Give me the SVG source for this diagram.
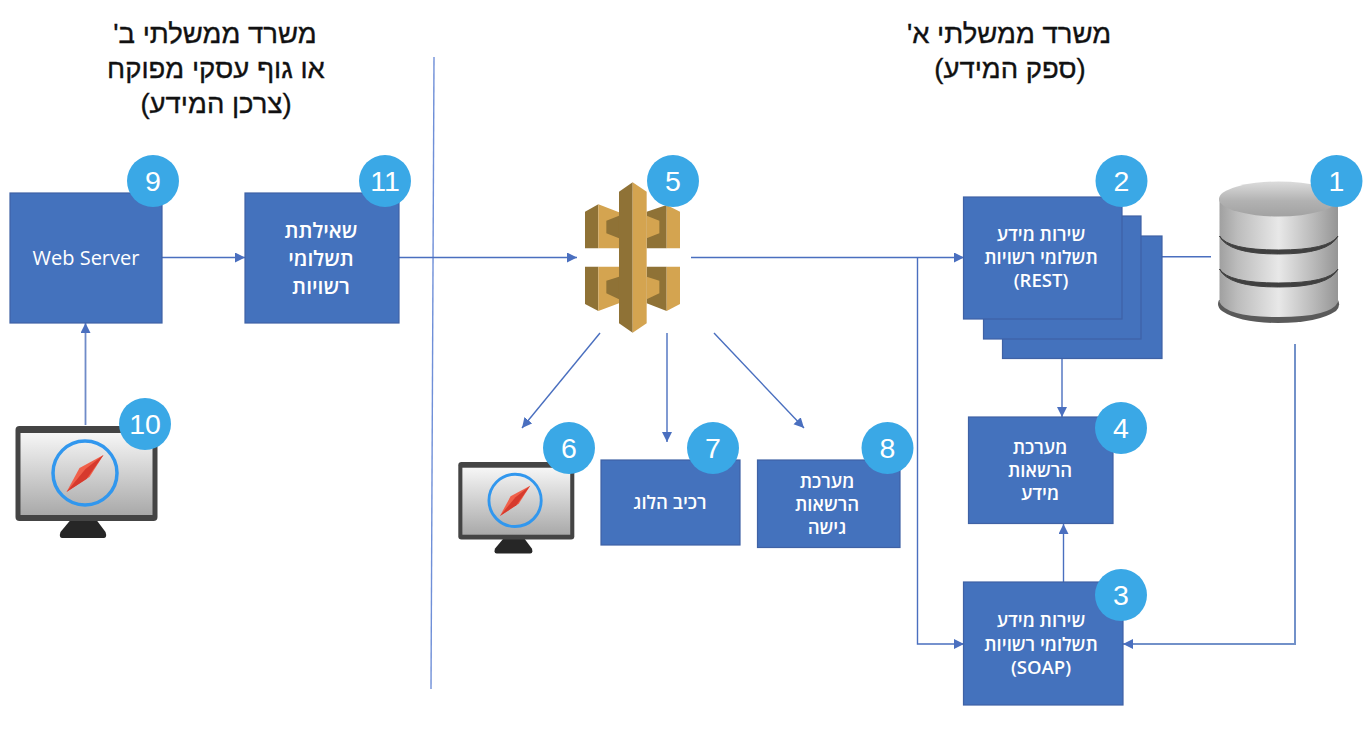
<svg xmlns="http://www.w3.org/2000/svg" width="1370" height="729" viewBox="0 0 1370 729">
<style>
.box{fill:#4472bd;stroke:#3f62a5;stroke-width:1.2}
.badge{fill:#3aa8e6}
.num{font:28.500px "Liberation Sans",Arial,sans-serif;fill:#fff;text-anchor:middle}
.t{font:600 18.500px "Open Sans","Liberation Sans","Noto Sans",sans-serif;fill:#fff;text-anchor:middle;direction:rtl}
.big{font-size:21px}
.title{font:27.500px "Liberation Sans",Arial,sans-serif;fill:#111;stroke:#111;stroke-width:.35;text-anchor:middle;direction:rtl}
.c{fill:none;stroke:#4a6fbf;stroke-width:1.4}
.a{marker-end:url(#ah)}
.dk{fill:#8f7236}.lt{fill:#d4a450}
</style>
<defs>
<marker id="ah" markerUnits="userSpaceOnUse" markerWidth="11" markerHeight="11" refX="10" refY="5" orient="auto"><path d="M0 0L10 5L0 10Z" fill="#4a6fbf"/></marker>
<linearGradient id="scr" x1="0" y1="0" x2="0" y2="1"><stop offset="0" stop-color="#f6f6f6"/><stop offset="1" stop-color="#a9a9a9"/></linearGradient>
<linearGradient id="cyl" x1="0" y1="0" x2="1" y2="0"><stop offset="0" stop-color="#a0a0a0"/><stop offset=".15" stop-color="#bcbcbc"/><stop offset=".5" stop-color="#e8e8e8"/><stop offset=".8" stop-color="#b8b8b8"/><stop offset="1" stop-color="#959595"/></linearGradient>
<linearGradient id="cyltop" x1="0" y1="0" x2="0" y2="1"><stop offset="0" stop-color="#dcdcdc"/><stop offset=".55" stop-color="#b2b2b2"/><stop offset="1" stop-color="#a2a2a2"/></linearGradient>
<g id="mon">
<path d="M55 94L81 94L90 106Q92 112 88 112L47 112Q43 112 45 106Z" fill="#262626"/>
<rect x="0" y="0" width="142" height="95" rx="4" fill="#444"/>
<rect x="5" y="7" width="132" height="82" fill="url(#scr)"/>
<circle cx="69.500" cy="47" r="32" fill="none" stroke="#3197ee" stroke-width="3.500"/>
<path d="M88 29L74 51L51 66L64 42Z" fill="#f0604a"/>
<path d="M88 29L70 43L51 66L71 53Z" fill="#d63a2d"/>
</g>
</defs>

<g id="connectors">
<path class="c" d="M434 57L431 689" style="stroke:#6f8fd8"/>
<path class="c a" d="M162 257.500H245"/>
<path class="c a" d="M399 257.500H577"/>
<path class="c a" d="M691 257.500H964"/>
<path class="c a" d="M917.500 257.500V644H964"/>
<path class="c" d="M1162 256.800H1211"/>
<path class="c a" style="stroke:#7291c9;stroke-width:2" d="M1295 344V644H1123"/>
<path class="c a" d="M1062 358V417"/>
<path class="c a" d="M1063.500 582V524"/>
<path class="c a" style="stroke:#6f8bc8;stroke-width:1.800" d="M85.500 425V323"/>
<path class="c a" d="M600 333L522 428"/>
<path class="c a" d="M667 333V442"/>
<path class="c a" d="M714 333L804 428"/>
</g>

<g id="title-b">
<text class="title" x="215" y="43">משרד ממשלתי ב'</text>
<text class="title" x="216" y="78">או גוף עסקי מפוקח</text>
<text class="title" x="216" y="113">(צרכן המידע)</text>
</g>
<g id="title-a">
<text class="title" x="1009" y="43">משרד ממשלתי א'</text>
<text class="title" x="1010" y="78">(ספק המידע)</text>
</g>

<g id="node-9">
<rect class="box" x="10" y="193" width="152" height="130"/>
<text x="86" y="265" style="font:500 20px 'Open Sans','Liberation Sans',sans-serif;fill:#fff;text-anchor:middle">Web Server</text>
<circle class="badge" cx="153" cy="181" r="26"/><text class="num" x="153" y="191">9</text>
</g>
<g id="node-11">
<rect class="box" x="245" y="193" width="154" height="130"/>
<text class="t big" x="321" y="238">שאילתת</text>
<text class="t big" x="321" y="266">תשלומי</text>
<text class="t big" x="321" y="294">רשויות</text>
<circle class="badge" cx="385" cy="181" r="26"/><text class="num" x="385" y="191">11</text>
</g>
<g id="node-10">
<use href="#mon" x="15.500" y="426"/>
<circle class="badge" cx="145" cy="424" r="26"/><text class="num" x="145" y="434">10</text>
</g>
<g id="node-5">
<g transform="translate(540 150) scale(.33333)">
<path class="dk" d="M135 185L175 163V295H135Z"/>
<path class="lt" d="M175 163L237 187V295H175Z"/>
<path class="dk" d="M199 212L237 197V265L199 250Z"/>
<path class="dk" d="M320 185L380 165V295H320Z"/>
<path class="lt" d="M380 165L420 185V295H380Z"/>
<path class="lt" d="M320 197L358 212V250L320 265Z"/>
<path class="dk" d="M135 350H175V483L135 462Z"/>
<path class="lt" d="M175 350H237V460L175 483Z"/>
<path class="dk" d="M199 392L237 380V448L199 430Z"/>
<path class="dk" d="M320 350H380V483L320 460Z"/>
<path class="lt" d="M380 350H420V462L380 483Z"/>
<path class="lt" d="M320 380L358 392V430L320 448Z"/>
<path class="dk" d="M237 125L278 97V548L237 520Z"/>
<path class="lt" d="M278 97L320 125V520L278 548Z"/>
</g>
<circle class="badge" cx="673" cy="181" r="26"/><text class="num" x="673" y="191">5</text>
</g>
<g id="node-6">
<use href="#mon" transform="translate(458.300 462) scale(.817)"/>
<circle class="badge" cx="569" cy="448" r="26"/><text class="num" x="569" y="458">6</text>
</g>
<g id="node-7">
<rect class="box" x="601" y="460" width="139" height="85"/>
<text class="t" x="670" y="509">רכיב הלוג</text>
<circle class="badge" cx="713" cy="448" r="26"/><text class="num" x="713" y="458">7</text>
</g>
<g id="node-8">
<rect class="box" x="757.500" y="460" width="142.500" height="87.500"/>
<text class="t" x="827" y="488">מערכת</text>
<text class="t" x="827" y="511">הרשאות</text>
<text class="t" x="827" y="534">גישה</text>
<circle class="badge" cx="887.500" cy="448" r="26"/><text class="num" x="887.500" y="458">8</text>
</g>
<g id="node-2">
<rect class="box" x="1002.500" y="236" width="159.500" height="122.500"/>
<rect class="box" x="983.500" y="216" width="157.500" height="123"/>
<rect class="box" x="963.500" y="197" width="158.500" height="122"/>
<text class="t" x="1041" y="241">שירות מידע</text>
<text class="t" x="1041" y="264">תשלומי רשויות</text>
<text class="t" x="1041" y="287">(REST)</text>
<circle class="badge" cx="1121.500" cy="181" r="26"/><text class="num" x="1121.500" y="191">2</text>
</g>
<g id="node-1">
<path d="M1219 300Q1216 306 1222 311Q1240 323 1278 323Q1318 323 1336 311Q1341 306 1338 300Z" fill="#5a5a5a"/>
<path d="M1219.500 198V302Q1226 317 1278.500 317Q1331 317 1338 302V198Z" fill="url(#cyl)"/>
<ellipse cx="1278.500" cy="199" rx="59.500" ry="17.500" fill="url(#cyltop)"/>
<path d="M1219.500 236Q1228 254 1278.500 254Q1329 254 1338 236Q1329 250 1278.500 250Q1228 250 1219.500 236Z" fill="#404040" stroke="#404040"/>
<path d="M1219.500 269Q1228 287 1278.500 287Q1329 287 1338 269Q1329 283 1278.500 283Q1228 283 1219.500 269Z" fill="#404040" stroke="#404040"/>
<circle class="badge" cx="1336.500" cy="181" r="26"/><text class="num" x="1336.500" y="191">1</text>
</g>
<g id="node-4">
<rect class="box" x="968.500" y="417" width="144.500" height="106.500"/>
<text class="t" x="1040" y="454">מערכת</text>
<text class="t" x="1040" y="477">הרשאות</text>
<text class="t" x="1040" y="500">מידע</text>
<circle class="badge" cx="1121" cy="428" r="26"/><text class="num" x="1121" y="438">4</text>
</g>
<g id="node-3">
<rect class="box" x="963.500" y="582" width="159.500" height="123"/>
<text class="t" x="1041" y="627">שירות מידע</text>
<text class="t" x="1041" y="651">תשלומי רשויות</text>
<text class="t" x="1041" y="674">(SOAP)</text>
<circle class="badge" cx="1121" cy="595" r="26"/><text class="num" x="1121" y="605">3</text>
</g>
</svg>
